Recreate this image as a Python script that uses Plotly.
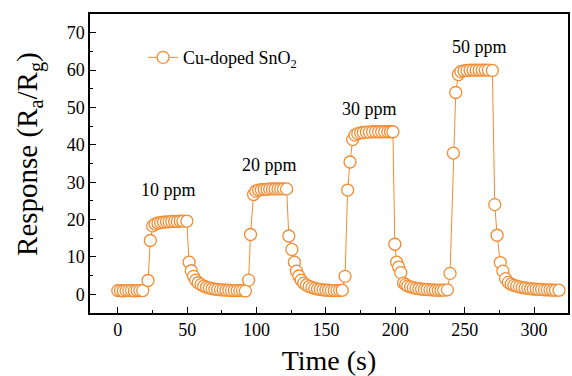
import plotly.graph_objects as go

# Time (s) and response (Ra/Rg) for Cu-doped SnO2
time_s = [
    0, 2, 4, 6, 8, 10, 12, 14, 16, 18,
    21.8, 23.5, 25.2, 27, 29, 31, 33, 35, 37, 39, 41, 43, 45, 47, 49.8,
    51.4, 53, 54.6, 56.2, 58, 60, 62, 64, 66, 68, 70, 72, 74, 76, 78, 80, 82, 84, 86, 88, 90, 92,
    94.3, 95.7, 97.9, 99.5, 101.5, 103.5, 105.5, 107.5, 109.5, 111.5, 113.5, 115.5, 117.5, 119.5, 121.7,
    123.3, 125.5, 127.3, 128.8, 130.5, 132.2, 134, 136, 138, 140, 142, 144, 146, 148, 150, 152, 154, 156, 158, 160, 161.8,
    163.8, 165.7, 167.4, 169.3, 171, 173, 175, 177, 179.2, 181.4, 183.6, 185.8, 188, 190.2, 192.4, 194.6, 196.5, 198.3,
    199.7, 201, 202.5, 204, 206, 207.5, 209, 211, 213, 215, 217, 219, 221, 223, 225, 227, 229, 231, 233, 235, 237.6,
    239.5, 241.9, 243.6, 245.5, 247.3, 249.5, 251.7, 253.9, 256.1, 258.3, 260.5, 262.7, 264.9, 267.1, 270,
    271.7, 273.4, 275.7, 277.6, 279.5, 281.5, 283.5, 285.5, 287.5, 289.5, 291.5, 293.5, 295.5, 297.5, 299.5,
    301.5, 303.5, 305.5, 307.5, 309.5, 311.5, 313.5, 315.5, 318,
]
response = [
    1.0, 1.0, 0.9, 1.0, 1.0, 1.0, 0.9, 1.0, 1.0, 1.0,
    3.7, 14.4, 18.3, 18.8, 19.1, 19.2, 19.3, 19.4, 19.4, 19.5, 19.5, 19.5, 19.6, 19.6, 19.6,
    8.6, 6.3, 4.8, 3.8, 3.1, 2.6, 2.2, 1.9, 1.7, 1.5, 1.4, 1.3, 1.2, 1.2, 1.1, 1.1, 1.0, 1.0, 1.0, 1.0, 1.0, 0.9,
    3.8, 16.0, 26.7, 27.6, 27.9, 28.0, 28.1, 28.1, 28.2, 28.2, 28.2, 28.2, 28.2, 28.2, 28.2,
    15.6, 12.0, 8.6, 6.2, 4.9, 3.8, 3.0, 2.5, 2.1, 1.8, 1.6, 1.4, 1.3, 1.2, 1.1, 1.1, 1.0, 1.0, 1.0, 1.0, 1.1,
    4.8, 27.9, 35.4, 41.4, 42.6, 43.0, 43.2, 43.3, 43.4, 43.4, 43.5, 43.5, 43.5, 43.5, 43.5, 43.5, 43.5, 43.5,
    13.4, 8.6, 7.3, 5.8, 3.0, 2.6, 2.2, 2.0, 1.8, 1.6, 1.5, 1.4, 1.3, 1.3, 1.2, 1.2, 1.1, 1.1, 1.1, 1.1, 1.2,
    5.6, 37.8, 54.0, 58.8, 59.6, 59.8, 59.9, 60.0, 60.0, 60.0, 60.0, 60.0, 60.0, 60.0, 59.9,
    24.0, 15.8, 8.5, 6.2, 4.2, 3.2, 2.7, 2.4, 2.2, 2.0, 1.8, 1.7, 1.6, 1.5, 1.4,
    1.4, 1.3, 1.3, 1.2, 1.2, 1.2, 1.1, 1.1, 1.1,
]

ann_text = ["10 ppm", "20 ppm", "30 ppm", "50 ppm"]
ann_x = [36.4, 109.1, 181.2, 260.7]
ann_y = [27.8, 34.7, 49.6, 66.3]

x_ticks = [0, 50, 100, 150, 200, 250, 300]
y_ticks = [0, 10, 20, 30, 40, 50, 60, 70]

ORANGE = "#F28C32"
FONT = "'Liberation Serif', 'Times New Roman', 'DejaVu Serif', serif"

fig = go.Figure()
fig.add_trace(go.Scatter(
    x=time_s, y=response, mode="lines+markers",
    name="Cu-doped SnO<sub>2</sub>",
    line=dict(color=ORANGE, width=1),
    marker=dict(symbol="circle", size=12, color="white",
                line=dict(color=ORANGE, width=1.3)),
))

for t, xx, yy in zip(ann_text, ann_x, ann_y):
    fig.add_annotation(x=xx, y=yy, text=t, showarrow=False,
                       font=dict(family=FONT, size=18, color="black"),
                       xanchor="center", yanchor="middle")

# y-axis title (placed as rotated text to match the reference position)
fig.add_annotation(x=-0.127, y=0.533, xref="paper", yref="paper",
                   text="Response (R<sub>a</sub>/R<sub>g</sub>)", textangle=-90,
                   showarrow=False, xanchor="center", yanchor="middle",
                   font=dict(family=FONT, size=29, color="black"))

axis_common = dict(
    showgrid=False, zeroline=False, showline=True, linecolor="black",
    linewidth=1.5, mirror=True, ticks="inside", tickcolor="black",
    tickwidth=1.3, ticklen=6,
    tickfont=dict(family=FONT, size=18, color="black"),
)

fig.update_xaxes(
    range=[-20, 324.5], tickvals=x_ticks,
    minor=dict(ticks="inside", ticklen=3, dtick=25, tick0=0, tickcolor="black", tickwidth=1.3),
    title=dict(text="Time (s)", font=dict(family=FONT, size=28, color="black"), standoff=13),
    **axis_common,
)
fig.update_yaxes(
    range=[-5, 75], tickvals=y_ticks,
    minor=dict(ticks="inside", ticklen=3, dtick=5, tick0=0, tickcolor="black", tickwidth=1.3),
    **axis_common,
)

fig.update_layout(
    width=572, height=376,
    margin=dict(l=90, r=2, t=14, b=63),
    paper_bgcolor="white", plot_bgcolor="white",
    font=dict(family=FONT, color="black"),
    showlegend=True,
    legend=dict(x=0.111, y=0.854, xanchor="left", yanchor="middle",
                bgcolor="rgba(0,0,0,0)", borderwidth=0,
                font=dict(family=FONT, size=18, color="black"),
                itemwidth=30),
)

fig.write_html("out.html")
